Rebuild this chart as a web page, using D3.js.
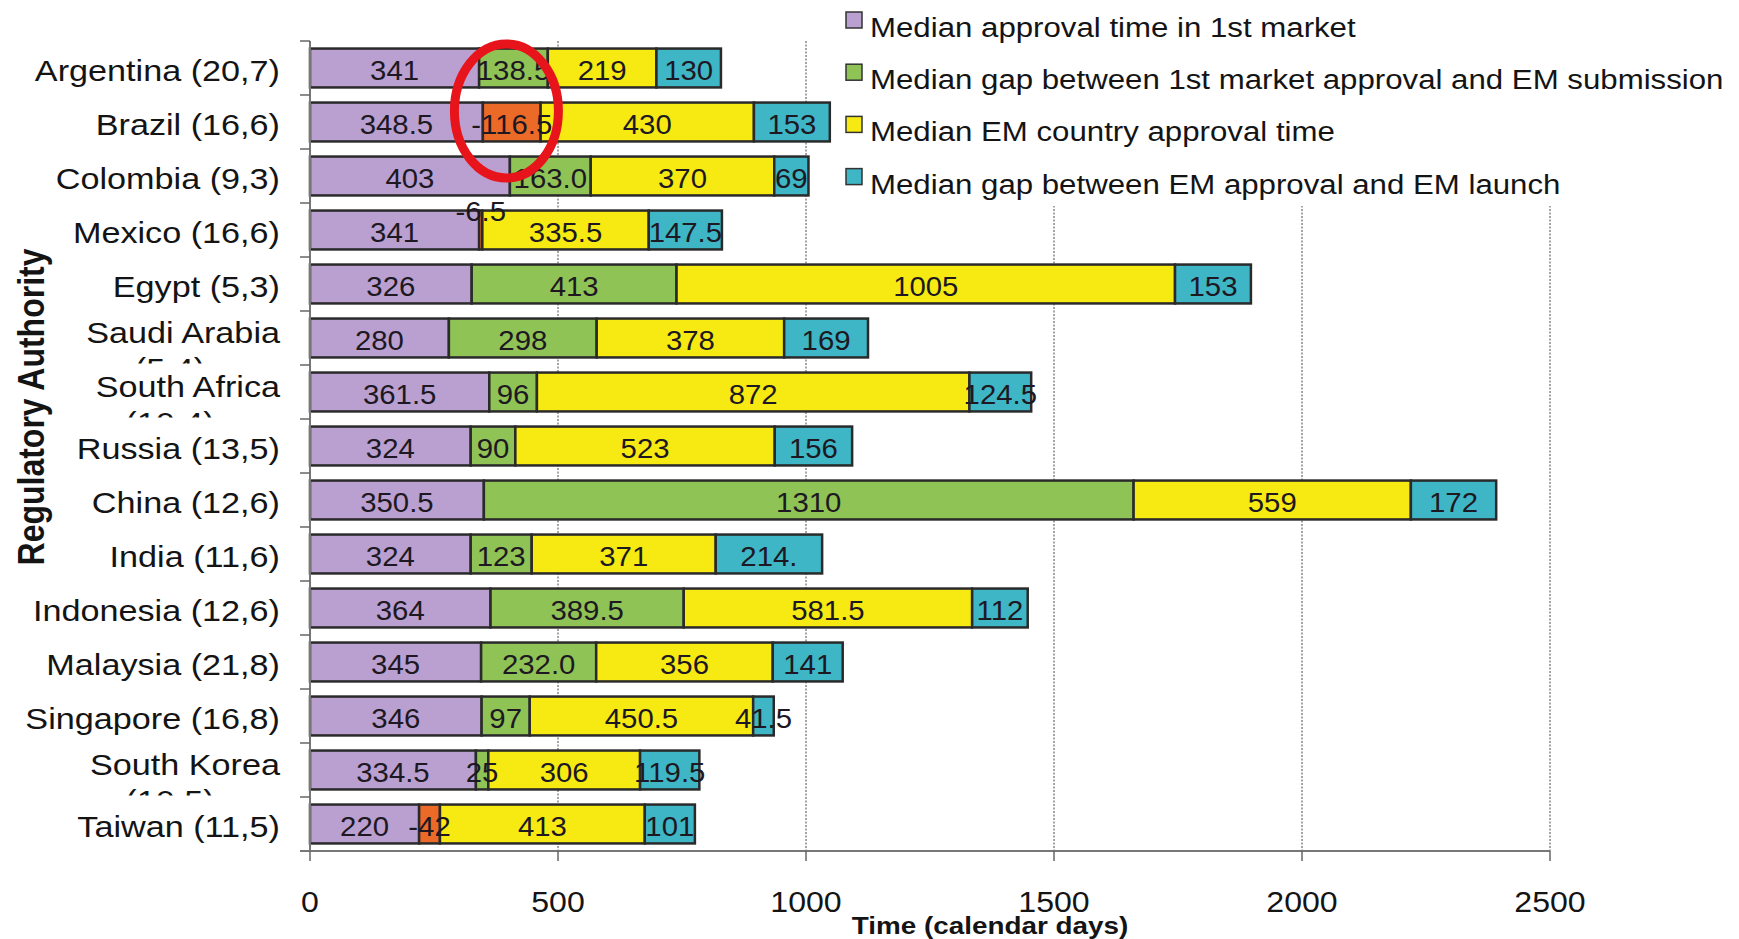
<!DOCTYPE html>
<html>
<head>
<meta charset="utf-8">
<script src="https://cdn.jsdelivr.net/npm/d3@7"></script>
<style>
  html, body { margin: 0; padding: 0; background: #fff; }
  svg { display: block; }
  text { font-family: "Liberation Sans", Arial, Helvetica, sans-serif; fill: #141414; }
</style>
</head>
<body>
<svg id="chart" width="1739" height="939"></svg>
<script>
// ---------------- data ----------------
const categories = [
  "Argentina (20,7)", "Brazil (16,6)", "Colombia (9,3)", "Mexico (16,6)", "Egypt (5,3)",
  "Saudi Arabia\n(5,4)", "South Africa\n(10,4)", "Russia (13,5)", "China (12,6)", "India (11,6)",
  "Indonesia (12,6)", "Malaysia (21,8)", "Singapore (16,8)", "South Korea\n(10,5)", "Taiwan (11,5)"
];
const firstMarketApproval = [341, 348.5, 403, 341, 326, 280, 361.5, 324, 350.5, 324, 364, 345, 346, 334.5, 220];
const gapApprovalSubmission = [138.5, -116.5, 163.0, -6.5, 413, 298, 96, 90, 1310, 123, 389.5, 232.0, 97, 25, -42];
const emApprovalTime = [219, 430, 370, 335.5, 1005, 378, 872, 523, 559, 371, 581.5, 356, 450.5, 306, 413];
const gapApprovalLaunch = [130, 153, 69, 147.5, 153, 169, 124.5, 156, 172, 214.5, 112, 141, 41.5, 119.5, 101];
const seriesNames = [
  "Median approval time in 1st market",
  "Median gap between 1st market approval and EM submission",
  "Median EM country approval time",
  "Median gap between EM approval and EM launch"
];
const xTicks = [0, 500, 1000, 1500, 2000, 2500];
const labelOverrides = { "1|2": "163.0", "1|11": "232.0", "3|9": "214." };
const highlightValue = 396;   // annotation ellipse centre (days) on Brazil row

// ---------------- setup ----------------
const colors = ["#B9A0D0", "#8FC355", "#F6EA12", "#3EB6C6"];
const negColor = "#EB6A28";
const svg = d3.select("#chart");

const x = d3.scaleLinear().domain([0, 2500]).range([310, 1550]);
const y = d3.scaleBand().domain(categories).range([41, 851]).paddingInner(0.28).paddingOuter(0.14);
const step = y.step();
const bandTop = c => y(c) - step * 0.14;

function stext(g, px, py, str, size, sx, anchor, weight) {
  return g.append("text")
    .attr("transform", `translate(${px},${py}) scale(${sx},1)`)
    .attr("text-anchor", anchor || "middle")
    .style("font-size", size + "px")
    .style("font-weight", weight || "normal")
    .text(str);
}

// gridlines
svg.append("g").selectAll("line").data(xTicks.slice(1)).join("line")
  .attr("x1", d => x(d)).attr("x2", d => x(d))
  .attr("y1", 41).attr("y2", 851)
  .attr("stroke", "#4a4a4a").attr("stroke-width", 1).attr("stroke-dasharray", "2,1.5");

// legend background (covers grid)
svg.append("rect").attr("x", 836).attr("y", 0).attr("width", 903).attr("height", 206).attr("fill", "#fff");

// bars
const series = [firstMarketApproval, gapApprovalSubmission, emApprovalTime, gapApprovalLaunch];
const segs = [];
categories.forEach((c, i) => {
  let start = 0;
  series.forEach((arr, s) => {
    const v = arr[i];
    const w = Math.abs(v);
    segs.push({ c, i, s, v, x0: start, x1: start + w });
    start += w;
  });
});
const barG = svg.append("g");
barG.selectAll("rect").data(segs).join("rect")
  .attr("x", d => x(d.x0)).attr("width", d => x(d.x1) - x(d.x0))
  .attr("y", d => y(d.c)).attr("height", y.bandwidth())
  .attr("fill", d => d.v < 0 ? negColor : colors[d.s])
  .attr("stroke", "#2a2a2a").attr("stroke-width", 2.5);

// value labels
const labG = svg.append("g");
segs.forEach(d => {
  const key = d.s + "|" + d.i;
  const txt = labelOverrides[key] || String(d.v);
  const cx = x((d.x0 + d.x1) / 2);
  const small = Math.abs(d.v) < 10;
  const by = small ? y(d.c) + 10 : y(d.c) + y.bandwidth() / 2 + 12;
  stext(labG, cx, by, txt, 28.5, 1.03, "middle").style("fill", "#1d1822");
});

// axes
const axG = svg.append("g");
axG.append("line").attr("x1", 310).attr("x2", 310).attr("y1", 41).attr("y2", 851)
  .attr("stroke", "#777").attr("stroke-width", 2);
axG.append("line").attr("x1", 300).attr("x2", x(2500)).attr("y1", 851).attr("y2", 851)
  .attr("stroke", "#777").attr("stroke-width", 2);
axG.selectAll(".yt").data(categories).join("line").attr("class", "yt")
  .attr("x1", 300).attr("x2", 310)
  .attr("y1", d => bandTop(d)).attr("y2", d => bandTop(d))
  .attr("stroke", "#666").attr("stroke-width", 1.5);
axG.selectAll(".xt").data(xTicks).join("line").attr("class", "xt")
  .attr("x1", d => x(d)).attr("x2", d => x(d)).attr("y1", 851).attr("y2", 861)
  .attr("stroke", "#666").attr("stroke-width", 1.5);
xTicks.forEach(t => stext(axG, x(t), 912, String(t), 30, 1.07, "middle"));

// category labels
const defs = svg.append("defs");
const catG = svg.append("g");
categories.forEach((c, i) => {
  const lines = c.split("\n");
  const cy = y(c) + y.bandwidth() / 2;
  if (lines.length === 1) {
    stext(catG, 280, cy + 13, c, 30, 1.14, "end");
  } else {
    const id = "clip" + i;
    defs.append("clipPath").attr("id", id).append("rect")
      .attr("x", 0).attr("y", bandTop(c)).attr("width", 300).attr("height", step - 1.5);
    const g = catG.append("g").attr("clip-path", `url(#${id})`);
    stext(g, 280, cy + 5, lines[0], 30, 1.14, "end");
    stext(g, 170, cy + 41, lines[1], 30, 1.14, "middle");
  }
});

// axis titles
svg.append("text")
  .attr("transform", `translate(44,407) scale(1.15,1) rotate(-90)`)
  .attr("text-anchor", "middle").style("font-size", "32px").style("font-weight", "bold")
  .text("Regulatory Authority");
stext(svg, 990, 934, "Time (calendar days)", 24, 1.16, "middle", "bold");

// legend
const legG = svg.append("g");
seriesNames.forEach((n, k) => {
  const by = 37 + k * 52.2;
  legG.append("rect").attr("x", 846).attr("y", by - 25).attr("width", 16).attr("height", 16)
    .attr("fill", colors[k]).attr("stroke", "#333").attr("stroke-width", 1.5);
  stext(legG, 870, by, n, 28, 1.115, "start");
});

// annotation ellipse
svg.append("ellipse")
  .attr("cx", x(highlightValue)).attr("cy", y(categories[1]) + y.bandwidth() / 2 - 11)
  .attr("rx", 52).attr("ry", 67)
  .attr("fill", "none").attr("stroke", "#E8141B").attr("stroke-width", 9);
</script>
</body>
</html>
